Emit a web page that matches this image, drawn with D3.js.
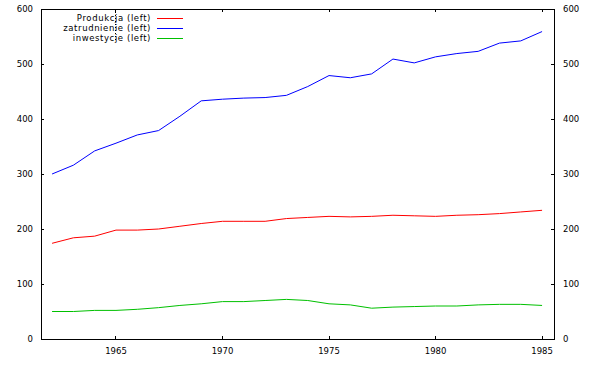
<!DOCTYPE html>
<html>
<head>
<meta charset="utf-8">
<script src="https://cdn.jsdelivr.net/npm/d3@7"></script>
<style>
  body { margin: 0; background: #fff; }
  text { font-family: "DejaVu Sans", sans-serif; font-size: 8.5px; fill: #000; }
  .legend text { letter-spacing: 0.6px; }
</style>
</head>
<body>
<div id="chart"></div>
<script>
(function() {
    const width = 595,
          height = 365;

    // data
    const years = d3.range(1962, 1986);
    const produkcja = [174, 184, 187, 198, 198, 200, 205, 210, 214, 214, 214, 219, 221, 223, 222, 223, 225, 224, 223, 225, 226, 228, 231, 234];
    const zatrudnienie = [300, 316, 342, 356, 371, 379, 405, 433, 436, 438, 439, 443, 459, 479, 475, 482, 509, 502, 513, 519, 523, 538, 542, 559];
    const inwestycje = [50, 50, 52, 52, 54, 57, 61, 64, 68, 68, 70, 72, 70, 64, 62, 56, 58, 59, 60, 60, 62, 63, 63, 61];
    const yTicks = [0, 100, 200, 300, 400, 500, 600];
    const xTicks = [1965, 1970, 1975, 1980, 1985];

    const series = [
        { name: "Produkcja (left)", values: produkcja, color: "#ff0000" },
        { name: "zatrudnienie (left)", values: zatrudnienie, color: "#0000ff" },
        { name: "inwestycje (left)", values: inwestycje, color: "#00c000" }
    ];

    const left = 41, right = 554, top = 9, bottom = 339;

    const svg = d3.select("#chart")
        .append("svg")
        .attr("width", width)
        .attr("height", height);

    const x = d3.scaleLinear().domain([1961.48, 1985.56]).range([left, right]);
    const y = d3.scaleLinear().domain([0, 600]).range([bottom, top]);

    // ticks (inward) on all four sides
    const tickLen = 3;
    const g = svg.append("g").attr("shape-rendering", "crispEdges");
    yTicks.forEach(v => {
        g.append("line").attr("x1", left).attr("x2", left + tickLen)
            .attr("y1", y(v)).attr("y2", y(v)).attr("stroke", "#000");
        g.append("line").attr("x1", right).attr("x2", right - tickLen)
            .attr("y1", y(v)).attr("y2", y(v)).attr("stroke", "#000");
        svg.append("text").attr("x", left - 8).attr("y", y(v) + 3)
            .attr("text-anchor", "end").text(v);
        svg.append("text").attr("x", right + 9).attr("y", y(v) + 3)
            .attr("text-anchor", "start").text(v);
    });
    xTicks.forEach(v => {
        g.append("line").attr("x1", x(v)).attr("x2", x(v))
            .attr("y1", bottom).attr("y2", bottom - tickLen).attr("stroke", "#000");
        g.append("line").attr("x1", x(v)).attr("x2", x(v))
            .attr("y1", top).attr("y2", top + tickLen).attr("stroke", "#000");
        svg.append("text").attr("x", x(v)).attr("y", bottom + 15)
            .attr("text-anchor", "middle").text(v);
    });

    // dotted mark running down through the legend
    g.append("line").attr("x1", x(1965)).attr("x2", x(1965))
        .attr("y1", top).attr("y2", 42)
        .attr("stroke", "#000").attr("stroke-dasharray", "1,2");

    // frame
    g.append("rect")
        .attr("x", left).attr("y", top)
        .attr("width", right - left).attr("height", bottom - top)
        .attr("fill", "none").attr("stroke", "#000");

    // lines
    const line = d3.line()
        .x((d, i) => x(years[i]))
        .y(d => y(d));

    svg.selectAll(".series")
        .data(series)
        .enter().append("path")
        .attr("class", "series")
        .attr("d", d => line(d.values))
        .attr("fill", "none")
        .attr("stroke", d => d.color)
        .attr("stroke-width", 1);

    // legend (text right aligned, sample to the right)
    const legend = svg.selectAll(".legend")
        .data(series)
        .enter().append("g")
        .attr("class", "legend")
        .attr("transform", (d, i) => `translate(0, ${18 + i * 10})`);

    legend.append("text")
        .attr("x", 151).attr("y", 3)
        .attr("text-anchor", "end")
        .text(d => d.name);
    legend.append("line")
        .attr("x1", 157).attr("x2", 183)
        .attr("y1", 0).attr("y2", 0)
        .attr("stroke", d => d.color)
        .attr("shape-rendering", "crispEdges");
})();
</script>
</body>
</html>
